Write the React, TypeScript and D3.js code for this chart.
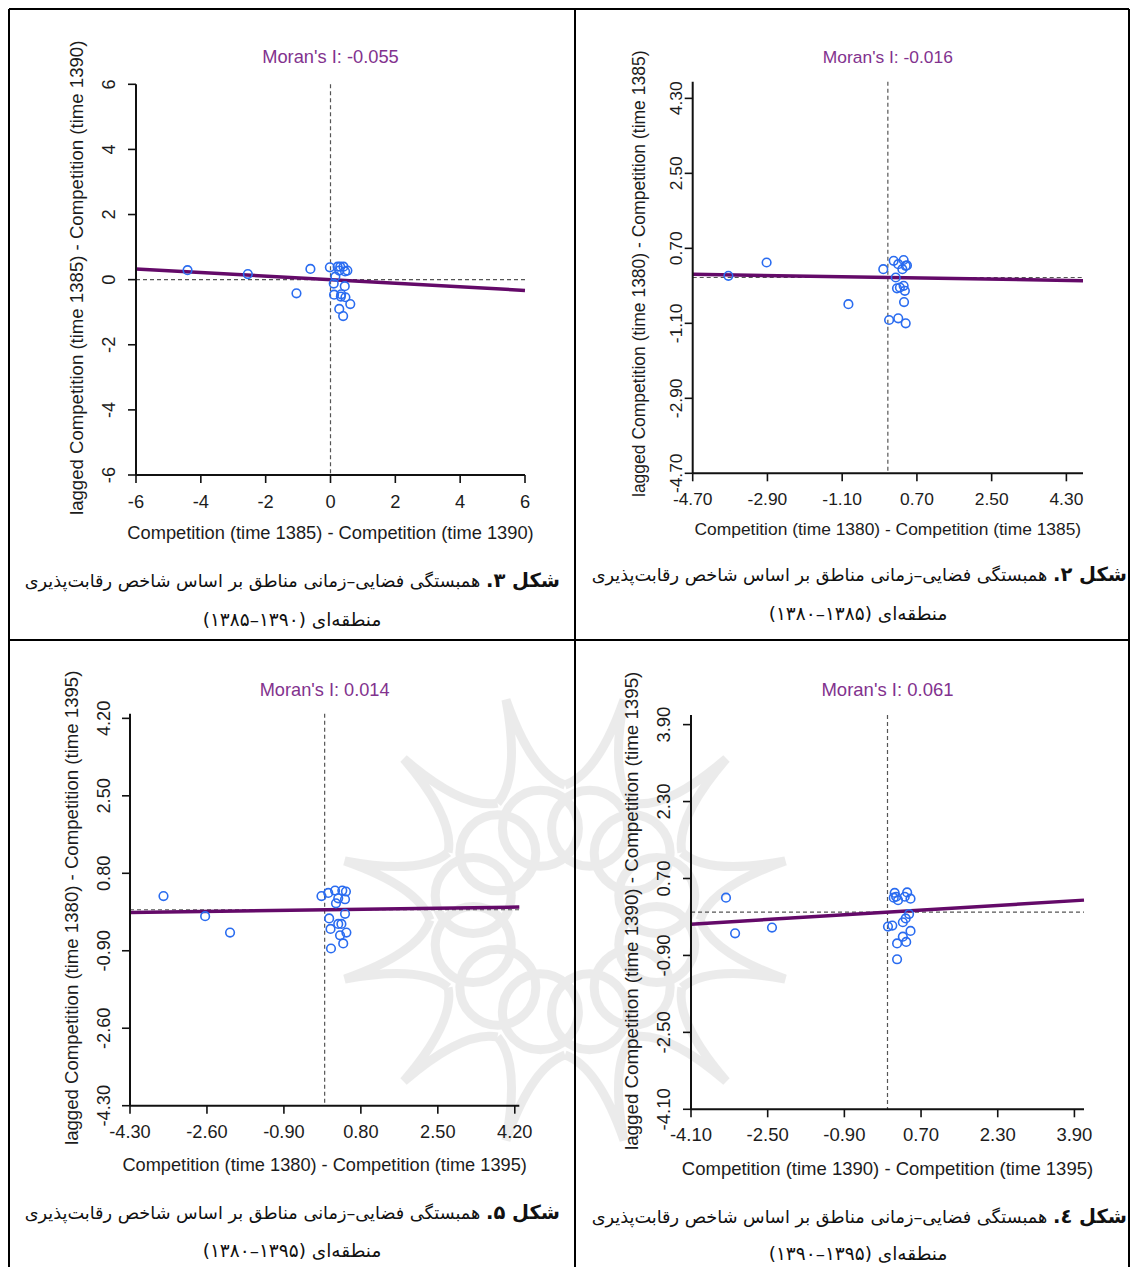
import React from 'react';
import * as d3 from 'd3';

const W = 1131;
const H = 1267;

// ---- data (panel order: top-left, top-right, bottom-left, bottom-right) ----
const moranI = [-0.055, -0.016, 0.014, 0.061];
const xTitles = [
  'Competition (time 1385) - Competition (time 1390)',
  'Competition (time 1380) - Competition (time 1385)',
  'Competition (time 1380) - Competition (time 1395)',
  'Competition (time 1390) - Competition (time 1395)',
];
const yTitles = [
  'lagged Competition (time 1385) - Competition (time 1390)',
  'lagged Competition (time 1380) - Competition (time 1385)',
  'lagged Competition (time 1380) - Competition (time 1395)',
  'lagged Competition (time 1390) - Competition (time 1395)',
];
const domains = [[-6, 6], [-4.7, 4.7], [-4.3, 4.3], [-4.1, 4.1]];
const ticks1 = [-6, -4, -2, 0, 2, 4, 6];
const ticks2 = [-4.7, -2.9, -1.1, 0.7, 2.5, 4.3];
const ticks3 = [-4.3, -2.6, -0.9, 0.8, 2.5, 4.2];
const ticks4 = [-4.1, -2.5, -0.9, 0.7, 2.3, 3.9];
const tickDigits = [0, 2, 2, 2];

const fig3X = [-4.41, -2.55, -1.05, -0.62, -0.02, 0.22, 0.3, 0.4, 0.52, 0.27, 0.45, 0.15, 0.1, 0.44, 0.11, 0.32, 0.46, 0.33, 0.61, 0.27, 0.39];
const fig3Y = [0.29, 0.17, -0.42, 0.33, 0.38, 0.4, 0.4, 0.4, 0.28, 0.28, 0.25, 0.09, -0.12, -0.2, -0.46, -0.52, -0.54, -0.45, -0.75, -0.9, -1.12];

const fig2X = [-3.84, -2.92, -0.95, -0.11, 0.19, 0.14, 0.25, 0.38, 0.43, 0.35, 0.46, 0.22, 0.29, 0.38, 0.41, 0.39, 0.03, 0.25, 0.43];
const fig2Y = [0.04, 0.36, -0.64, 0.2, 0.0, 0.4, 0.32, 0.42, 0.28, 0.2, 0.29, -0.26, -0.24, -0.2, -0.32, -0.59, -1.02, -0.98, -1.1];

const fig5X = [-3.56, -2.64, -2.09, -0.07, 0.08, 0.23, 0.39, 0.47, 0.3, 0.45, 0.25, 0.45, 0.1, 0.3, 0.37, 0.13, 0.34, 0.48, 0.41, 0.14];
const fig5Y = [0.3, -0.14, -0.5, 0.3, 0.37, 0.42, 0.42, 0.4, 0.25, 0.23, 0.14, -0.09, -0.19, -0.31, -0.31, -0.42, -0.56, -0.5, -0.74, -0.85];

const fig4X = [-3.37, -3.18, -2.41, 0.01, 0.1, 0.15, 0.18, 0.13, 0.22, 0.41, 0.36, 0.48, 0.45, 0.38, 0.32, 0.48, 0.32, 0.39, 0.2, 0.2];
const fig4Y = [0.3, -0.44, -0.32, -0.3, -0.28, 0.4, 0.32, 0.3, 0.25, 0.41, 0.32, 0.28, -0.04, -0.13, -0.21, -0.39, -0.51, -0.62, -0.65, -0.98];

const captionLabels = ['شکل ۳.', 'شکل ۲.', 'شکل ۵.', 'شکل ٤.'];
const captionLine1 = ' همبستگی فضایی–زمانی مناطق بر اساس شاخص رقابت‌پذیری';
const captionLine2 = [
  'منطقه‌ای (۱۳۹۰–۱۳۸۵)',
  'منطقه‌ای (۱۳۸۵–۱۳۸۰)',
  'منطقه‌ای (۱۳۹۵–۱۳۸۰)',
  'منطقه‌ای (۱۳۹۵–۱۳۹۰)',
];

// ---- layout (pixel geometry of each panel) ----
const layouts = [
  { x0: 136, x1: 525, y0: 475, y1: 84.3, fs: 18.3, yfs: 18.6, titleY: 63, xTickY: 508, yTickX: 115, yTitleX: 83, yTitleBottom: 515, xTitleY: 539, clipY: 41, clipX: 10, clipW: 564, capR: 560, capC: 292, cap1Y: 587, cap2Y: 626 },
  { x0: 692.7, x1: 1083, y0: 473.3, y1: 81.7, fs: 17.4, yfs: 17.5, titleY: 63, xTickY: 505, yTickX: 682, yTitleX: 645, yTitleBottom: 497, xTitleY: 535, clipY: 41, clipX: 577, clipW: 553, capR: 1127, capC: 858, cap1Y: 581, cap2Y: 620 },
  { x0: 130, x1: 519.3, y0: 1105.7, y1: 713.8, fs: 18.2, yfs: 18.6, titleY: 696, xTickY: 1138, yTickX: 110, yTitleX: 78, yTitleBottom: 1145, xTitleY: 1171, clipY: 671, clipX: 10, clipW: 564, capR: 560, capC: 292, cap1Y: 1219, cap2Y: 1257 },
  { x0: 691, x1: 1084, y0: 1109.3, y1: 715, fs: 18.5, yfs: 18.75, titleY: 696, xTickY: 1141, yTickX: 670, yTitleX: 638, yTitleBottom: 1150, xTitleY: 1175, clipY: 671, clipX: 577, clipW: 553, capR: 1127, capC: 858, cap1Y: 1223, cap2Y: 1260 },
];

const allTicks = [ticks1, ticks2, ticks3, ticks4];
const allX = [fig3X, fig2X, fig5X, fig4X];
const allY = [fig3Y, fig2Y, fig5Y, fig4Y];

const FONT = '"Liberation Sans", Arial, sans-serif';
const AR_FONT = '"DejaVu Sans", sans-serif';
const TEXT = '#1c1c1c';
const POINT = '#2a6cf0';
const LINE = '#640a69';
const TITLE = '#82328e';

function Panel({ i }: { i: number }) {
  const L = layouts[i];
  const dom = domains[i];
  const x = d3.scaleLinear().domain(dom).range([L.x0, L.x1]);
  const y = d3.scaleLinear().domain(dom).range([L.y0, L.y1]);
  const ticks = allTicks[i];
  const fmt = (v: number) => v.toFixed(tickDigits[i]);
  const xs = allX[i];
  const ys = allY[i];
  const slope = moranI[i];
  const reg = d3.line<number>().x((v) => x(v)).y((v) => y(slope * v));
  const clipId = `clip${i}`;
  const cx = (L.x0 + L.x1) / 2;
  return (
    <g>
      <defs>
        <clipPath id={clipId}>
          <rect x={L.clipX} y={L.clipY} width={L.clipW} height={600} />
        </clipPath>
      </defs>
      <g clipPath={`url(#${clipId})`}>
        <text x={cx} y={L.titleY} textAnchor="middle" fontFamily={FONT} fontSize={L.fs} fill={TITLE}>
          {`Moran's I: ${moranI[i].toFixed(3)}`}
        </text>
        <line x1={x(0)} x2={x(0)} y1={L.y1} y2={L.y0} stroke="#555" strokeWidth={1.2} strokeDasharray="4,3" />
        <line x1={L.x0} x2={L.x1} y1={y(0)} y2={y(0)} stroke="#555" strokeWidth={1.2} strokeDasharray="4,3" />
        <path d={reg(dom) || ''} stroke={LINE} strokeWidth={3.5} fill="none" />
        {xs.map((v, k) => (
          <circle key={k} cx={x(v)} cy={y(ys[k])} r={4.3} fill="none" stroke={POINT} strokeWidth={1.6} />
        ))}
        <line x1={L.x0} x2={L.x0} y1={L.y1} y2={L.y0} stroke="#111" strokeWidth={2} />
        <line x1={L.x0} x2={L.x1} y1={L.y0} y2={L.y0} stroke="#111" strokeWidth={2} />
        {ticks.map((t) => (
          <g key={`x${t}`}>
            <line x1={x(t)} x2={x(t)} y1={L.y0} y2={L.y0 + 8} stroke="#111" strokeWidth={1.6} />
            <text x={x(t)} y={L.xTickY} textAnchor="middle" fontFamily={FONT} fontSize={L.fs} fill={TEXT}>
              {fmt(t)}
            </text>
          </g>
        ))}
        {ticks.map((t) => (
          <g key={`y${t}`}>
            <line x1={L.x0} x2={L.x0 - 8} y1={y(t)} y2={y(t)} stroke="#111" strokeWidth={1.6} />
            <text
              transform={`translate(${L.yTickX},${y(t)}) rotate(-90)`}
              textAnchor="middle"
              fontFamily={FONT}
              fontSize={L.fs}
              fill={TEXT}
            >
              {fmt(t)}
            </text>
          </g>
        ))}
        <text x={cx} y={L.xTitleY} textAnchor="middle" fontFamily={FONT} fontSize={L.fs} fill={TEXT}>
          {xTitles[i]}
        </text>
        <text
          transform={`translate(${L.yTitleX},${L.yTitleBottom}) rotate(-90)`}
          textAnchor="start"
          fontFamily={FONT}
          fontSize={L.yfs}
          fill={TEXT}
        >
          {yTitles[i]}
        </text>
      </g>
      <text
        x={L.capR}
        y={L.cap1Y}
        direction="rtl"
        textAnchor="start"
        fontFamily={AR_FONT}
        fontSize={17.7}
        fill="#111"
        style={{ unicodeBidi: 'embed' }}
      >
        <tspan fontWeight="bold" fontSize={19.5}>{captionLabels[i]}</tspan>
        <tspan>{captionLine1}</tspan>
      </text>
      <text
        x={L.capC}
        y={L.cap2Y}
        direction="rtl"
        textAnchor="middle"
        fontFamily={AR_FONT}
        fontSize={18.5}
        fill="#111"
        style={{ unicodeBidi: 'embed' }}
      >
        {captionLine2[i]}
      </text>
    </g>
  );
}

// faint watermark rosette behind the lower panels
function Watermark() {
  const cx = 565;
  const cy = 920;
  const n = 12;
  const items = d3.range(n).map((k) => {
    const a = (k * 2 * Math.PI) / n;
    const step = (2 * Math.PI) / n;
    const b = a + step / 2;
    const p = d3.path();
    const r1 = 135;
    const r2 = 228;
    const rc = 150;
    p.moveTo(cx + r1 * Math.cos(a), cy + r1 * Math.sin(a));
    p.quadraticCurveTo(cx + rc * Math.cos(b - 0.04), cy + rc * Math.sin(b - 0.04), cx + r2 * Math.cos(b), cy + r2 * Math.sin(b));
    p.quadraticCurveTo(cx + rc * Math.cos(b + 0.04), cy + rc * Math.sin(b + 0.04), cx + r1 * Math.cos(a + step), cy + r1 * Math.sin(a + step));
    return { d: p.toString(), ccx: cx + 95 * Math.cos(b), ccy: cy + 95 * Math.sin(b) };
  });
  return (
    <g stroke="#cfcfcf" strokeWidth={9} fill="none" opacity={0.4}>
      {items.map((it, k) => (
        <g key={k}>
          <path d={it.d} />
          <circle cx={it.ccx} cy={it.ccy} r={38} />
        </g>
      ))}
    </g>
  );
}

export default function App() {
  return (
    <svg width={W} height={H} style={{ position: 'absolute', left: 0, top: 0, background: '#fff' }}>
      <rect x={0} y={0} width={W} height={H} fill="#fff" />
      <Watermark />
      {[0, 1, 2, 3].map((i) => (
        <Panel key={i} i={i} />
      ))}
      <g stroke="#000" strokeWidth={2} fill="none">
        <line x1={9} x2={9} y1={9} y2={H} />
        <line x1={1129} x2={1129} y1={9} y2={H} />
        <line x1={9} x2={1129} y1={9} y2={9} />
        <line x1={575} x2={575} y1={9} y2={H} />
        <line x1={9} x2={1129} y1={640} y2={640} />
      </g>
    </svg>
  );
}
